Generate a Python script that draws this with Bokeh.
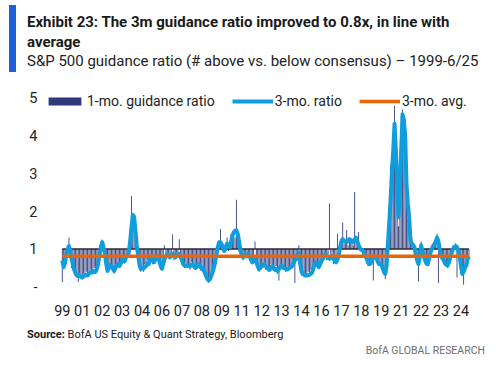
from bokeh.plotting import figure
from bokeh.models import Range1d, FixedTicker, Legend, LegendItem, Div
from bokeh.layouts import column
from bokeh.embed import file_html
from bokeh.resources import INLINE

# ---- texts ----
title_text = "Exhibit 23: The 3m guidance ratio improved to 0.8x, in line with<br>average"
subtitle_text = "S&amp;P 500 guidance ratio (# above vs. below consensus) \u2013 1999-6/25"
source_text = "BofA US Equity &amp; Quant Strategy, Bloomberg"
brand_text = "BofA GLOBAL RESEARCH"

# ---- data (monthly, late 1999 - 6/2025) ----
x_tick_labels = ["99", "01", "02", "03", "04", "06", "07", "08", "09", "11", "12",
                 "13", "14", "16", "17", "18", "19", "21", "22", "23", "24"]
months_per_label = 15

ratio_1m = [
    0.13, 0.55, 0.80, 0.95, 1.10, 1.30, 0.70, 0.50, 0.45, 0.40,
    0.30, 0.25, 0.13, 0.35, 0.30, 0.20, 0.35, 0.25, 0.40, 0.28,
    0.30, 0.45, 0.35, 0.42, 0.50, 0.35, 0.55, 0.70, 1.00, 1.10,
    1.25, 0.95, 0.70, 0.45, 0.40, 0.55, 0.62, 0.45, 0.50, 0.35,
    0.55, 0.60, 0.58, 0.50, 0.70, 0.72, 0.80, 0.62, 0.85, 0.80,
    1.00, 1.40, 2.40, 1.85, 1.70, 1.30, 0.95, 0.70, 0.45, 0.40,
    0.55, 0.40, 0.60, 0.50, 0.70, 0.55, 0.80, 0.85, 0.60, 0.70,
    0.75, 0.85, 0.80, 0.60, 0.45, 0.50, 0.70, 1.10, 0.75, 0.90,
    0.75, 0.85, 0.80, 1.39, 0.70, 0.75, 0.90, 0.80, 1.26, 0.70,
    0.65, 0.55, 0.50, 0.62, 0.50, 0.60, 0.45, 0.65, 0.55, 0.50,
    0.45, 0.60, 0.55, 0.62, 0.45, 0.50, 0.40, 0.35, 0.25, 0.20,
    0.10, 0.25, 0.30, 0.45, 0.55, 0.75, 0.90, 1.10, 1.20, 1.53,
    1.05, 0.90, 1.10, 1.00, 1.30, 0.95, 1.15, 1.40, 1.20, 1.50,
    1.30, 2.30, 1.20, 0.95, 0.85, 0.80, 0.70, 0.90, 0.85, 0.75,
    0.90, 0.70, 0.65, 0.60, 0.80, 1.20, 0.55, 0.50, 0.40, 0.55,
    0.60, 0.50, 0.65, 0.45, 0.55, 0.40, 0.50, 0.60, 0.45, 0.50,
    0.40, 0.55, 0.35, 0.17, 0.55, 0.60, 0.45, 0.55, 0.40, 0.50,
    0.45, 0.55, 0.50, 0.60, 0.70, 0.10, 0.80, 0.90, 1.10, 0.50,
    0.30, 0.35, 0.25, 0.35, 0.30, 0.40, 0.30, 0.45, 0.40, 0.55,
    0.65, 0.60, 0.50, 0.60, 0.65, 0.75, 0.70, 0.90, 0.85, 0.70,
    0.80, 2.20, 0.75, 0.90, 0.60, 0.70, 0.60, 1.40, 0.85, 1.10,
    1.25, 1.70, 1.15, 1.20, 1.50, 1.10, 1.30, 1.20, 1.15, 1.10,
    2.50, 1.20, 1.10, 1.45, 0.95, 1.00, 0.85, 0.95, 0.75, 0.70,
    0.55, 0.65, 0.60, 0.80, 0.17, 0.85, 0.70, 0.75, 0.55, 0.60,
    0.45, 0.50, 0.35, 0.20, 0.80, 1.50, 2.00, 3.20, 2.50, 3.80,
    4.77, 3.00, 2.40, 1.60, 3.00, 3.80, 4.68, 4.00, 3.50, 2.40,
    1.80, 1.50, 1.20, 1.30, 1.00, 1.10, 0.80, 0.65, 0.14, 0.90,
    1.20, 0.85, 0.70, 0.75, 0.55, 0.65, 0.80, 0.95, 1.05, 1.00,
    1.20, 1.25, 1.40, 0.10, 0.95, 0.80, 0.70, 0.65, 0.55, 0.60,
    0.50, 0.70, 0.85, 0.95, 1.10, 1.00, 1.15, 0.25, 0.90, 0.75,
    0.40, 0.30, 0.06, 0.55, 0.60, 0.80, 0.75,
]

ratio_3m = [
    0.70, 0.52, 0.62, 0.85, 1.00, 1.08, 0.95, 0.75, 0.58, 0.45,
    0.35, 0.30, 0.28, 0.30, 0.27, 0.25, 0.28, 0.30, 0.32, 0.30,
    0.34, 0.38, 0.40, 0.38, 0.42, 0.40, 0.48, 0.62, 0.85, 1.05,
    1.18, 1.05, 0.90, 0.62, 0.42, 0.50, 0.58, 0.55, 0.48, 0.42,
    0.50, 0.58, 0.60, 0.55, 0.62, 0.70, 0.74, 0.68, 0.78, 0.83,
    0.90, 1.20, 1.55, 1.90, 1.85, 1.50, 1.10, 0.85, 0.60, 0.47,
    0.50, 0.48, 0.52, 0.55, 0.62, 0.60, 0.72, 0.80, 0.70, 0.65,
    0.72, 0.80, 0.82, 0.68, 0.55, 0.48, 0.62, 0.75, 0.82, 0.87,
    0.80, 0.78, 0.82, 0.88, 0.80, 0.78, 0.82, 0.86, 0.87, 0.80,
    0.70, 0.60, 0.56, 0.55, 0.58, 0.56, 0.54, 0.58, 0.60, 0.55,
    0.50, 0.52, 0.60, 0.58, 0.52, 0.47, 0.50, 0.40, 0.30, 0.22,
    0.17, 0.20, 0.28, 0.38, 0.50, 0.65, 0.85, 1.05, 1.18, 1.18,
    1.12, 1.00, 0.95, 1.05, 1.14, 1.08, 1.05, 1.20, 1.35, 1.44,
    1.48, 1.49, 1.40, 1.20, 0.96, 0.85, 0.78, 0.80, 0.87, 0.82,
    0.87, 0.80, 0.72, 0.65, 0.70, 0.74, 0.65, 0.55, 0.47, 0.50,
    0.56, 0.58, 0.60, 0.55, 0.50, 0.47, 0.45, 0.52, 0.55, 0.48,
    0.45, 0.47, 0.42, 0.47, 0.52, 0.56, 0.52, 0.50, 0.48, 0.46,
    0.47, 0.50, 0.52, 0.55, 0.62, 0.70, 0.74, 0.85, 0.91, 0.62,
    0.40, 0.34, 0.32, 0.30, 0.30, 0.31, 0.32, 0.35, 0.38, 0.50,
    0.60, 0.65, 0.58, 0.52, 0.60, 0.68, 0.74, 0.82, 0.87, 0.80,
    0.76, 0.74, 0.78, 0.83, 0.75, 0.68, 0.65, 0.72, 0.83, 1.05,
    1.20, 1.26, 1.22, 1.20, 1.18, 1.22, 1.26, 1.24, 1.20, 1.18,
    1.25, 1.30, 1.20, 1.10, 1.02, 0.98, 0.96, 0.90, 0.83, 0.75,
    0.65, 0.60, 0.62, 0.70, 0.78, 0.80, 0.78, 0.70, 0.62, 0.60,
    0.60, 0.50, 0.40, 0.34, 0.55, 1.13, 1.70, 2.27, 3.00, 3.59,
    4.30, 3.60, 2.71, 1.84, 2.60, 3.59, 4.55, 4.40, 4.00, 2.70,
    2.20, 1.84, 1.22, 1.15, 1.10, 1.05, 0.85, 0.70, 0.60, 0.80,
    1.10, 0.95, 0.80, 0.70, 0.62, 0.60, 0.75, 0.90, 1.00, 1.08,
    1.13, 1.20, 1.30, 1.20, 1.00, 0.85, 0.75, 0.70, 0.62, 0.58,
    0.57, 0.65, 0.78, 0.90, 1.00, 1.05, 1.08, 1.05, 0.95, 0.80,
    0.55, 0.34, 0.40, 0.50, 0.57, 0.74, 0.80,
]

avg_3m = 0.81
bar_base = 1.0
y_ticks = [0, 1, 2, 3, 4, 5]

n = len(ratio_1m)
months = list(range(n))
avg_line = [avg_3m] * n
base_line = [bar_base] * n

FONT = "Roboto"
NAVY = "#17256a"
BLUE = "#0f9ddd"
ORANGE = "#e8650c"
TXT = "#1a1a1a"

# ---- header ----
header = Div(width=488, height=85, margin=(0, 0, 0, 0), text=f"""
<div style="position:relative;width:488px;height:85px;font-family:Roboto,sans-serif;color:{TXT};">
  <div style="position:absolute;left:9px;top:5px;width:7px;height:67px;background:#1d5fd6;"></div>
  <div style="position:absolute;left:27px;top:12px;font-size:15px;line-height:20px;font-weight:bold;white-space:nowrap;">{title_text}</div>
  <div style="position:absolute;left:27px;top:52px;font-size:15px;line-height:18px;color:#222;white-space:nowrap;">{subtitle_text}</div>
</div>""")

# ---- chart ----
p = figure(width=488, height=233, output_backend="svg", toolbar_location=None,
           x_range=Range1d(-11.9, n + 12.2), y_range=Range1d(-0.2, 5.1),
           min_border_left=46, min_border_right=2, min_border_top=8, min_border_bottom=22,
           margin=(0, 0, 0, 0))
p.outline_line_color = None
p.grid.visible = False

bars = p.vbar(x=months, bottom=bar_base, top=ratio_1m, width=0.65,
              fill_color=NAVY, fill_alpha=0.9, line_color=None)
p.line(months, base_line, line_color="#2b2b3b", line_width=1.5)
l3 = p.line(months, ratio_3m, line_color=BLUE, line_width=4, line_join="round")
lavg = p.line(months, avg_line, line_color=ORANGE, line_width=3.5)

p.xaxis.ticker = FixedTicker(ticks=[i * months_per_label for i in range(len(x_tick_labels))])
p.xaxis.major_label_overrides = {i * months_per_label: lab for i, lab in enumerate(x_tick_labels)}
p.yaxis.ticker = FixedTicker(ticks=y_ticks)
p.yaxis.major_label_overrides = {0: "-"}
for ax in (p.xaxis, p.yaxis):
    ax.axis_line_color = None
    ax.major_tick_line_color = None
    ax.minor_tick_line_color = None
    ax.major_label_text_font = FONT
    ax.major_label_text_font_size = "14.5px"
    ax.major_label_text_color = "#222222"
p.xaxis.major_label_standoff = 4
p.yaxis.major_label_standoff = 3

legend = Legend(items=[LegendItem(label="1-mo. guidance ratio", renderers=[bars]),
                       LegendItem(label="3-mo. ratio", renderers=[l3]),
                       LegendItem(label="3-mo. avg.", renderers=[lavg])],
                orientation="horizontal", location=(-2, 185),
                background_fill_alpha=0, border_line_color=None,
                glyph_width=41, glyph_height=10, label_standoff=2, spacing=17,
                padding=0, margin=0,
                label_text_font=FONT, label_text_font_size="14px", label_text_color="#222222")
p.add_layout(legend, "center")

# ---- footer ----
footer = Div(width=488, height=46, margin=(0, 0, 0, 0), text=f"""
<div style="position:relative;width:488px;height:46px;font-family:Roboto,sans-serif;color:{TXT};">
  <div style="position:absolute;left:27px;top:10px;font-size:11px;line-height:13px;white-space:nowrap;"><b>Source:</b> {source_text}</div>
  <div style="position:absolute;right:3px;top:27px;font-size:10.5px;line-height:12px;color:#6e6e6e;white-space:nowrap;">{brand_text}</div>
</div>""")

layout = column(header, p, footer, spacing=0)
open("out.html", "w").write(file_html(layout, INLINE))
